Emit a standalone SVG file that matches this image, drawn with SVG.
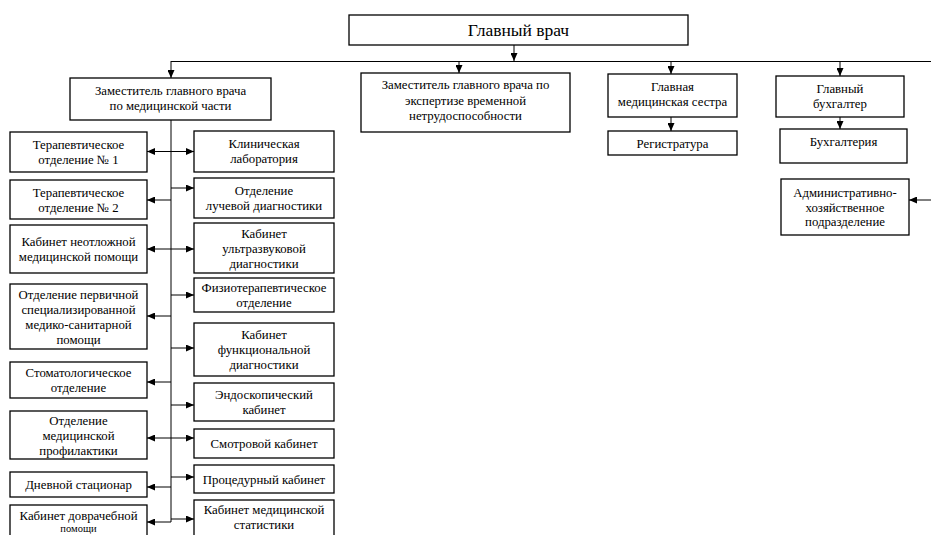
<svg xmlns="http://www.w3.org/2000/svg" width="931" height="535" viewBox="0 0 931 535">
<defs>
<marker id="ah" markerWidth="8" markerHeight="7" refX="8" refY="3.5" orient="auto" markerUnits="userSpaceOnUse">
<path d="M0,0 L8,3.5 L0,7 Z" fill="#000"/>
</marker>
<marker id="as" markerWidth="8" markerHeight="7" refX="0" refY="3.5" orient="auto" markerUnits="userSpaceOnUse">
<path d="M8,0 L0,3.5 L8,7 Z" fill="#000"/>
</marker>
<style>
rect{fill:#fff;stroke:#000;stroke-width:1.3}
text{font-family:"Liberation Serif","Times New Roman",serif;font-size:12.8px;text-anchor:middle;fill:#000}
.big{font-size:17.5px}
.sm{font-size:10.5px}
#connectors line{stroke:#000;stroke-width:1;fill:none}
.a{marker-end:url(#ah)}
.d{marker-start:url(#as);marker-end:url(#ah)}
</style>
</defs>
<rect x="0" y="0" width="931" height="535" style="stroke:none"/>
<g id="connectors">
<line class="a" x1="514" y1="45" x2="514" y2="61"/>
<line x1="171" y1="61.5" x2="931" y2="61.5"/>
<line class="a" x1="171" y1="61" x2="171" y2="78"/>
<line class="a" x1="459" y1="61" x2="459" y2="73"/>
<line class="a" x1="671" y1="61" x2="671" y2="74"/>
<line class="a" x1="840" y1="61" x2="840" y2="76"/>
<line class="a" x1="671" y1="117" x2="671" y2="131"/>
<line class="a" x1="840" y1="117" x2="840" y2="129"/>
<line class="a" x1="931" y1="200" x2="909" y2="200"/>
<line x1="171" y1="120" x2="171" y2="522"/>
<line class="d" x1="147" y1="151.5" x2="194" y2="151.5"/>
<line class="a" x1="171" y1="200" x2="147" y2="200"/>
<line class="a" x1="171" y1="188" x2="194" y2="188"/>
<line class="d" x1="147" y1="249" x2="194" y2="249"/>
<line class="a" x1="171" y1="295" x2="194" y2="295"/>
<line class="a" x1="171" y1="316" x2="147" y2="316"/>
<line class="a" x1="171" y1="348" x2="194" y2="348"/>
<line class="a" x1="171" y1="382" x2="147" y2="382"/>
<line class="a" x1="171" y1="405" x2="194" y2="405"/>
<line class="d" x1="147" y1="438" x2="194" y2="438"/>
<line class="a" x1="171" y1="477" x2="194" y2="477"/>
<line class="a" x1="171" y1="487" x2="147" y2="487"/>
<line class="a" x1="171" y1="519" x2="194" y2="519"/>
<line class="a" x1="171" y1="522" x2="147" y2="522"/>
</g>
<g id="n-gv"><rect x="349" y="15" width="339" height="30"/><text class="big" x="518.5" y="36">Главный врач</text></g>
<g id="n-zam-med"><rect x="70" y="78" width="201" height="42"/><text x="170.5" y="95">Заместитель главного врача</text><text x="170.5" y="110">по медицинской части</text></g>
<g id="n-zam-exp"><rect x="361" y="73" width="209" height="59"/><text x="465.5" y="89">Заместитель главного врача по</text><text x="465.5" y="104.5">экспертизе временной</text><text x="465.5" y="120">нетрудоспособности</text></g>
<g id="n-sestra"><rect x="608" y="74" width="129" height="43"/><text x="672.5" y="91">Главная</text><text x="672.5" y="106">медицинская сестра</text></g>
<g id="n-buh"><rect x="776" y="76" width="128" height="41"/><text x="840" y="93">Главный</text><text x="840" y="108">бухгалтер</text></g>
<g id="n-reg"><rect x="608" y="131" width="129" height="24"/><text x="672.5" y="147.5">Регистратура</text></g>
<g id="n-buhg"><rect x="780" y="129" width="127" height="34"/><text x="843.5" y="145.5">Бухгалтерия</text></g>
<g id="n-adm"><rect x="781" y="179" width="128" height="56"/><text x="845" y="197">Административно-</text><text x="845" y="211.5">хозяйственное</text><text x="845" y="226">подразделение</text></g>
<g id="n-l1"><rect x="10" y="132" width="137" height="40"/><text x="78.5" y="148.5">Терапевтическое</text><text x="78.5" y="163.5">отделение № 1</text></g>
<g id="n-l2"><rect x="10" y="180" width="137" height="39"/><text x="78.5" y="196.5">Терапевтическое</text><text x="78.5" y="211.5">отделение № 2</text></g>
<g id="n-l3"><rect x="10" y="225" width="137" height="48"/><text x="78.5" y="246">Кабинет неотложной</text><text x="78.5" y="261">медицинской помощи</text></g>
<g id="n-l4"><rect x="10" y="284" width="137" height="65"/><text x="78.5" y="298.5">Отделение первичной</text><text x="78.5" y="313.5">специализированной</text><text x="78.5" y="328.5">медико-санитарной</text><text x="78.5" y="343.5">помощи</text></g>
<g id="n-l5"><rect x="10" y="362" width="137" height="36"/><text x="78.5" y="377">Стоматологическое</text><text x="78.5" y="392">отделение</text></g>
<g id="n-l6"><rect x="10" y="411" width="137" height="48"/><text x="78.5" y="424.5">Отделение</text><text x="78.5" y="439.5">медицинской</text><text x="78.5" y="454.5">профилактики</text></g>
<g id="n-l7"><rect x="10" y="472" width="137" height="25"/><text x="78.5" y="489">Дневной стационар</text></g>
<g id="n-l8"><rect x="10" y="505" width="137" height="40"/><text x="78.5" y="520">Кабинет доврачебной</text><text class="sm" x="78.5" y="532">помощи</text></g>
<g id="n-r1"><rect x="194" y="131" width="140" height="41"/><text x="264" y="148">Клиническая</text><text x="264" y="163">лаборатория</text></g>
<g id="n-r2"><rect x="194" y="178" width="140" height="40"/><text x="264" y="195">Отделение</text><text x="264" y="210">лучевой диагностики</text></g>
<g id="n-r3"><rect x="194" y="223" width="140" height="50"/><text x="264" y="238">Кабинет</text><text x="264" y="253">ультразвуковой</text><text x="264" y="268">диагностики</text></g>
<g id="n-r4"><rect x="194" y="278" width="140" height="34"/><text x="264" y="292">Физиотерапевтическое</text><text x="264" y="307">отделение</text></g>
<g id="n-r5"><rect x="194" y="323" width="140" height="53"/><text x="264" y="339">Кабинет</text><text x="264" y="354">функциональной</text><text x="264" y="369">диагностики</text></g>
<g id="n-r6"><rect x="194" y="383" width="140" height="38"/><text x="264" y="399">Эндоскопический</text><text x="264" y="414">кабинет</text></g>
<g id="n-r7"><rect x="194" y="429" width="140" height="29"/><text x="264" y="448">Смотровой кабинет</text></g>
<g id="n-r8"><rect x="194" y="465" width="140" height="28"/><text x="264" y="483.5">Процедурный кабинет</text></g>
<g id="n-r9"><rect x="194" y="500" width="140" height="45"/><text x="264" y="514">Кабинет медицинской</text><text x="264" y="529">статистики</text></g>
</svg>
